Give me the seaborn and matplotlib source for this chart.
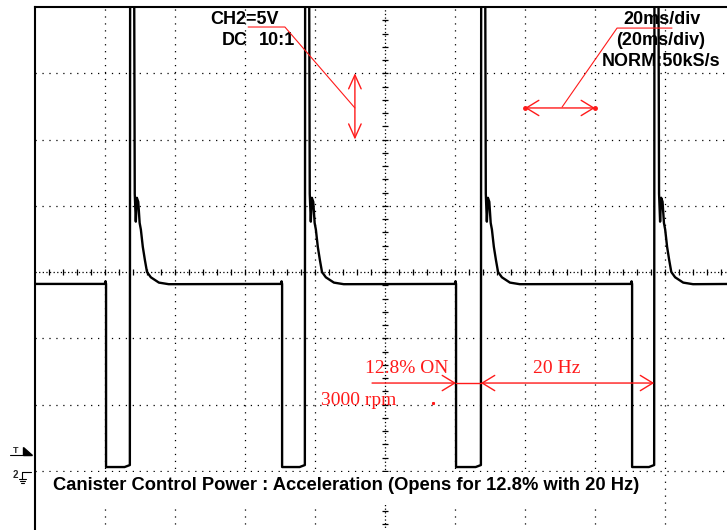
import pandas as pd
import matplotlib.pyplot as plt
import seaborn as sns
from matplotlib.lines import Line2D
from matplotlib.patches import Rectangle, Polygon

sns.set_theme(style="white")
plt.rcParams["font.family"] = ["Liberation Sans", "DejaVu Sans"]
plt.rcParams["lines.scale_dashes"] = False

# scope screen: 10 x 8 divisions, 20 ms/div, 5 V/div, ground 1 div above bottom
t_span = (0, 200)
v_span = (-5, 35)
v_center = 15
grid_t = [20, 40, 60, 80, 120, 140, 160, 180]
grid_v = [0, 5, 10, 20, 25, 30]

# canister purge valve drive signal (ms, V)
fall_ms = [20.3, 70.6, 120.3, 170.6]
rise_ms = [27.1, 77.1, 127.4, 176.9]
base_v = 14.1
low_v = 0.28
low_end_v = 0.43
# flyback spike after each switch-off (ms after rise, V)
spike_dt = [0.1, 1.15, 1.4, 1.7, 2.0, 2.4, 2.8, 3.15, 3.7, 4.3, 4.9, 6.0, 8.3, 11.1]
spike_v = [45.0, 45.0, 20.9, 18.8, 20.6, 20.3, 18.7, 18.2, 16.9, 15.9, 15.0, 14.6, 14.2, 14.08]

t, v = [t_span[0]], [base_v]
for f, r in zip(fall_ms, rise_ms):
    t += [f - 0.4, f - 0.15, f, f, r - 1.5, r]
    v += [base_v, base_v + 0.2, base_v, low_v, low_v, low_end_v]
    t += [r + d for d in spike_dt]
    v += spike_v
t.append(t_span[1])
v.append(base_v)
trace = pd.DataFrame({"t": t, "v": v})

W, H = 727, 530
fig = plt.figure(figsize=(W / 100, H / 100), dpi=100)
ax = fig.add_axes([35 / W, -7 / H, 700 / W, 1.0])

# graticule
dot = (0, (0.9, 4.1))
fine = (0, (0.9, 1.7))
for x in grid_t:
    ax.axvline(x, color="black", lw=0.9, ls=dot, zorder=1)
for y in grid_v:
    ax.axhline(y, color="black", lw=0.9, ls=dot, zorder=1)
ax.axvline(100, color="black", lw=0.9, ls=fine, zorder=1)
ax.axhline(v_center, color="black", lw=0.9, ls=fine, zorder=1)
ax.plot(range(4, 200, 4), [v_center] * 49, ls="none", marker="|",
        ms=4.5, mew=0.9, color="black", zorder=1)
ax.plot([100] * 39, range(-4, 35), ls="none", marker="_",
        ms=4.5, mew=0.9, color="black", zorder=1)

sns.lineplot(data=trace, x="t", y="v", sort=False, estimator=None,
             color="black", lw=1.7, ax=ax, zorder=5)

ax.set_xlim(*t_span)
ax.set_ylim(*v_span)
ax.set_xticks([])
ax.set_yticks([])
ax.set_xlabel("")
ax.set_ylabel("")
for s in ax.spines.values():
    s.set_color("black")
    s.set_linewidth(1.5)

# settings read-out
bold = dict(fontsize=13, fontweight="bold", color="black", ha="left",
            va="baseline", zorder=4)
ax.text(50.0, 33.72, "CH2=5V", **bold)
ax.text(53.4, 32.13, "DC", **bold)
ax.text(64.0, 32.13, "10:1", **bold)
ax.text(168.0, 33.72, "20ms/div", **bold)
ax.text(166.0, 32.13, "(20ms/div)", **bold)
ax.text(162.0, 30.57, "NORM:50kS/s", **bold)

# red notes
red = "#ff1a1a"
ax.plot([60.9, 71.4, 91.4], [33.49, 33.49, 27.38], color=red, lw=0.8, zorder=6)
ax.annotate("", xy=(91.4, 30.0), xytext=(91.4, 25.0),
            arrowprops=dict(arrowstyle="<->,head_length=1.0,head_width=0.45",
                            color=red, lw=1.0, shrinkA=0, shrinkB=0,
                            mutation_scale=10), zorder=6)
ax.plot([150.6, 166.3, 182.0], [27.45, 33.41, 33.41], color=red, lw=0.8, zorder=6)
ax.annotate("", xy=(160.0, 27.38), xytext=(140.0, 27.38),
            arrowprops=dict(arrowstyle="<->,head_length=0.9,head_width=0.55",
                            color=red, lw=1.0, shrinkA=0, shrinkB=0,
                            mutation_scale=10), zorder=6)
ax.plot([140.0, 160.0], [27.38, 27.38], ls="none", marker="o", ms=2.5,
        color=red, zorder=6)

y_arr = 6.62
ax.annotate("", xy=(fall_ms[2], y_arr), xytext=(96.3, y_arr),
            arrowprops=dict(arrowstyle="->,head_length=0.9,head_width=0.55",
                            color=red, lw=1.0, shrinkA=0, shrinkB=0,
                            mutation_scale=10), zorder=6)
ax.plot([fall_ms[2], rise_ms[2]], [y_arr, y_arr], color=red, lw=1.0, zorder=6)
ax.annotate("", xy=(rise_ms[3], y_arr), xytext=(rise_ms[2], y_arr),
            arrowprops=dict(arrowstyle="<->,head_length=0.9,head_width=0.55",
                            color=red, lw=1.0, shrinkA=0, shrinkB=0,
                            mutation_scale=10), zorder=6)

serif = dict(fontsize=14, color=red, family="Liberation Serif", ha="left",
             va="baseline", zorder=6)
ax.text(94.3, 7.40, "12.8% ON", **serif)
ax.text(142.3, 7.40, "20 Hz", **serif)
ax.text(81.7, 4.96, "3000 rpm", **serif)
ax.plot([113.7], [5.11], ls="none", marker="s", ms=1.2, color=red, zorder=6)

# caption
ax.add_patch(Rectangle((2.9, -2.6), 171.4, 2.5, facecolor="white",
                       edgecolor="none", zorder=3))
ax.text(5.1, -1.45, "Canister Control Power : Acceleration (Opens for 12.8% with 20 Hz)",
        fontsize=13.2, fontweight="bold", color="black", ha="left",
        va="baseline", zorder=4)


# trigger and ground markers left of the screen
def fp(x, y):
    return (x / W, 1 - y / H)


fig.text(*fp(12.5, 453), "T", fontsize=6.5, fontweight="bold", va="baseline")
fig.add_artist(Line2D(*zip(fp(10, 455), fp(31, 455)), color="black", lw=0.8,
                      transform=fig.transFigure))
fig.add_artist(Polygon([fp(23, 447), fp(23, 455), fp(32, 455)], closed=True,
                       color="black", transform=fig.transFigure))
fig.text(*fp(12.5, 478), "2", fontsize=7, fontweight="bold", va="baseline")
for (x0, y0), (x1, y1) in [((21.7, 472.3), (30.7, 472.3)),
                           ((22.3, 472.3), (22.3, 479.3)),
                           ((19, 479.3), (26, 479.3)),
                           ((20, 481.3), (25, 481.3)),
                           ((21.3, 483.3), (24, 483.3))]:
    fig.add_artist(Line2D(*zip(fp(x0, y0), fp(x1, y1)), color="black", lw=0.8,
                          transform=fig.transFigure))

fig.savefig("out.png", dpi=100)
